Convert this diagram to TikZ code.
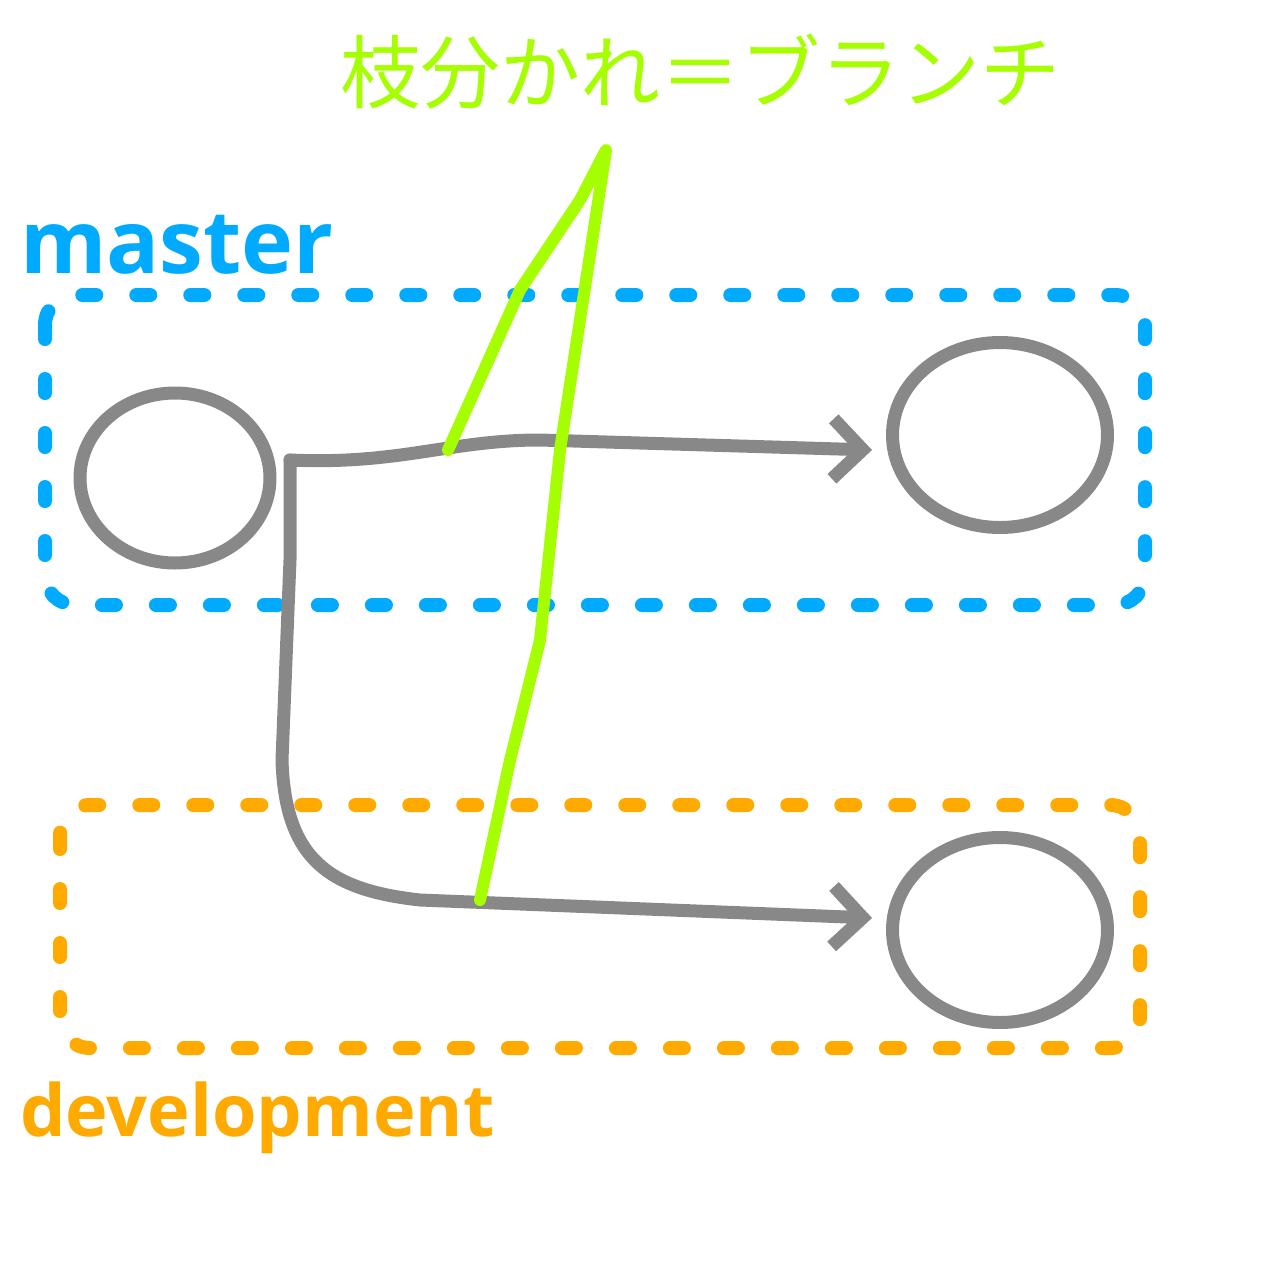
\documentclass[tikz,border=0pt]{standalone}
\usepackage{fontspec}
\newfontfamily\cjk{Noto Sans CJK JP}
\setmainfont{Open Sans}
\usetikzlibrary{arrows.meta,shapes.geometric}
\definecolor{bblue}{HTML}{00AAFF}
\definecolor{borange}{HTML}{FFAA00}
\definecolor{bgreen}{HTML}{A6FF00}
\definecolor{bgray}{HTML}{888888}
\begin{document}
\begin{tikzpicture}[x=1pt,y=-1pt,
  box/.style={line width=14pt,line cap=round,dash pattern=on 14pt off 40pt,rounded corners=30pt},
  stroke/.style={draw=bgray,line width=13pt,line cap=round,line join=round},
  arr/.style={-{Straight Barb[length=30pt,width=60pt,line width=13pt]}}]
\useasboundingbox (0,0) rectangle (1280,1280);
\draw[box,bblue] (45,295) rectangle (1145,605);
\draw[box,borange] (60,805) rectangle (1140,1048);
\node[stroke,ellipse,minimum width=190pt,minimum height=170pt] (c1) at (175,478) {};
\node[stroke,ellipse,minimum width=215pt,minimum height=185pt] (c2) at (1000,435) {};
\node[stroke,ellipse,minimum width=215pt,minimum height=185pt] (c3) at (1000,930) {};
\coordinate (s) at (290,460);
\coordinate (e1) at (872,450);
\coordinate (e2) at (872,918);
\draw[stroke,arr] (s) .. controls (400,465) and (450,440) .. (540,440) -- (e1);
\draw[stroke,arr] (s) -- (290,560) -- (282,760) .. controls (285,860) and (330,890) .. (420,900) -- (e2);
\coordinate (g1) at (448,450);
\coordinate (g2) at (606,150);
\coordinate (g3) at (480,900);
\draw[draw=bgreen,line width=12pt,line cap=round,line join=round] (g1) -- (520,290) -- (580,200) -- (g2) -- (560,450) -- (540,640) -- (510,760) -- (g3);
\node[text=bgreen,font=\cjk\fontsize{80}{80}\selectfont,anchor=center] (t) at (700,72) {枝分かれ＝ブランチ};
\node[text=bblue,font=\bfseries\fontsize{88}{88}\selectfont,anchor=west,inner sep=0] (m) at (20,245) {master};
\node[text=borange,font=\bfseries\fontsize{72}{72}\selectfont,anchor=west,inner sep=0] (d) at (20,1118) {development};
\end{tikzpicture}
\end{document}
